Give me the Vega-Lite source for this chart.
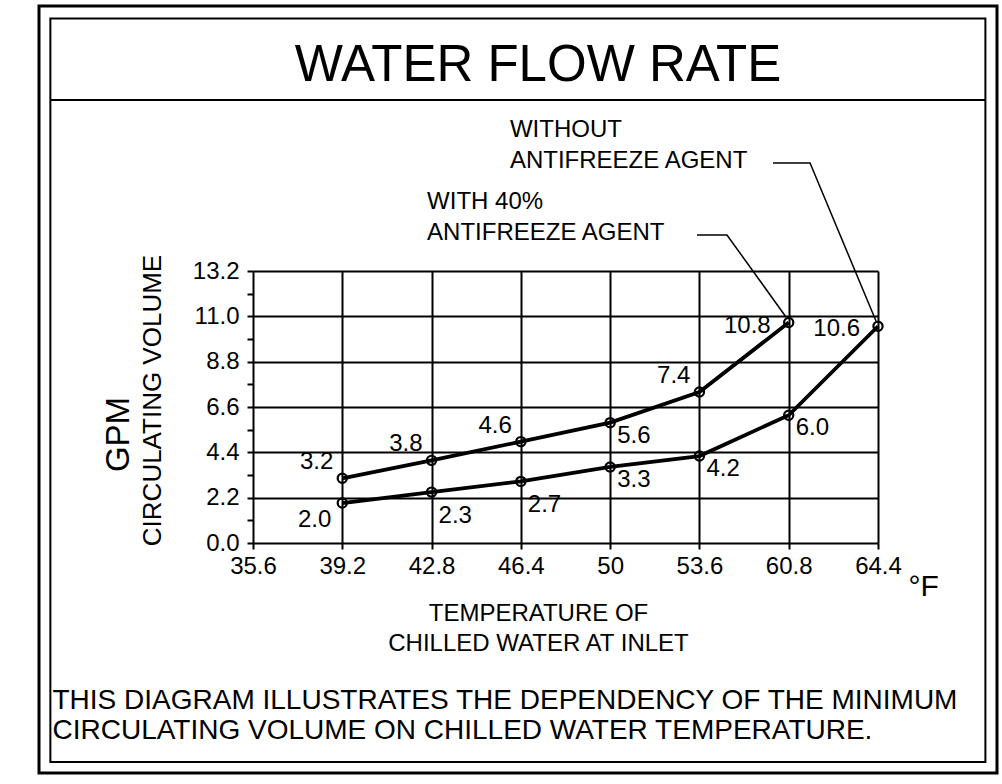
{
  "$schema": "https://vega.github.io/schema/vega-lite/v6.json",
  "width": 958,
  "height": 767,
  "autosize": {"type": "none"},
  "padding": {"left": 39, "top": 6, "right": 5, "bottom": 11},
  "background": "white",
  "config": {
    "view": {"stroke": "black", "strokeWidth": 3},
    "font": "Liberation Sans",
    "axis": {
      "labelFont": "Liberation Sans", "titleFont": "Liberation Sans",
      "labelColor": "black", "titleColor": "black", "titleFontWeight": "normal",
      "tickColor": "black", "domainColor": "black", "gridColor": "black"
    },
    "title": {"font": "Liberation Sans", "fontWeight": "normal", "color": "black"},
    "text": {"font": "Liberation Sans", "color": "black"}
  },
  "title": {
    "text": "WATER FLOW RATE", "fontSize": 51, "anchor": "middle", "frame": "group",
    "baseline": "alphabetic", "offset": -126, "dx": 20
  },
  "datasets": {
    "flow": [
      {"series": "With 40% antifreeze agent", "temp": 39.2, "gpm": 3.14, "stated": 3.2},
      {"series": "With 40% antifreeze agent", "temp": 42.8, "gpm": 4.01, "stated": 3.8},
      {"series": "With 40% antifreeze agent", "temp": 46.4, "gpm": 4.92, "stated": 4.6},
      {"series": "With 40% antifreeze agent", "temp": 50, "gpm": 5.84, "stated": 5.6},
      {"series": "With 40% antifreeze agent", "temp": 53.6, "gpm": 7.33, "stated": 7.4},
      {"series": "With 40% antifreeze agent", "temp": 60.8, "gpm": 10.70, "stated": 10.8},
      {"series": "Without antifreeze agent", "temp": 39.2, "gpm": 1.94, "stated": 2.0},
      {"series": "Without antifreeze agent", "temp": 42.8, "gpm": 2.47, "stated": 2.3},
      {"series": "Without antifreeze agent", "temp": 46.4, "gpm": 2.99, "stated": 2.7},
      {"series": "Without antifreeze agent", "temp": 50, "gpm": 3.69, "stated": 3.3},
      {"series": "Without antifreeze agent", "temp": 53.6, "gpm": 4.22, "stated": 4.2},
      {"series": "Without antifreeze agent", "temp": 60.8, "gpm": 6.20, "stated": 6.0},
      {"series": "Without antifreeze agent", "temp": 64.4, "gpm": 10.52, "stated": 10.6}
    ],
    "notes": [
      {"series": "With 40% antifreeze agent", "note": "WITH 40%\nANTIFREEZE AGENT", "temp": 42.62, "gpm": 16.21},
      {"series": "Without antifreeze agent", "note": "WITHOUT\nANTIFREEZE AGENT", "temp": 45.96, "gpm": 19.70}
    ],
    "leaders": [
      {"series": "With 40% antifreeze agent", "step": 1, "temp": 53.50, "gpm": 14.95},
      {"series": "With 40% antifreeze agent", "step": 2, "temp": 55.82, "gpm": 14.95},
      {"series": "With 40% antifreeze agent", "step": 3, "temp": 60.58, "gpm": 10.97},
      {"series": "Without antifreeze agent", "step": 1, "temp": 59.53, "gpm": 18.44},
      {"series": "Without antifreeze agent", "step": 2, "temp": 61.66, "gpm": 18.44},
      {"series": "Without antifreeze agent", "step": 3, "temp": 64.32, "gpm": 10.77}
    ],
    "frame": [
      {"part": "border", "t1": 27.43, "t2": 68.73, "g1": -10.63, "g2": 25.45},
      {"part": "title rule", "t1": 27.43, "t2": 68.73, "g1": 21.50, "g2": 21.50}
    ]
  },
  "resolve": {"axis": {"x": "independent", "y": "independent"}},
  "layer": [
    {
      "data": {"name": "frame"},
      "transform": [{"filter": "datum.part == 'border'"}],
      "mark": {"type": "rect", "filled": false, "stroke": "black", "strokeWidth": 2},
      "encoding": {
        "x": {"field": "t1", "type": "quantitative", "axis": null,
              "scale": {"domain": [35.6, 53.6, 60.8, 64.4], "range": [214, 660.43, 749.71, 839], "nice": false, "zero": false}},
        "x2": {"field": "t2"},
        "y": {"field": "g1", "type": "quantitative", "axis": null,
              "scale": {"domain": [0, 13.2], "range": [537, 265], "nice": false, "zero": false}},
        "y2": {"field": "g2"}
      }
    },
    {
      "data": {"name": "frame"},
      "transform": [{"filter": "datum.part == 'title rule'"}],
      "mark": {"type": "rule", "stroke": "black", "strokeWidth": 2},
      "encoding": {
        "x": {"field": "t1", "type": "quantitative", "axis": null,
              "scale": {"domain": [35.6, 53.6, 60.8, 64.4], "range": [214, 660.43, 749.71, 839], "nice": false, "zero": false}},
        "x2": {"field": "t2"},
        "y": {"field": "g1", "type": "quantitative", "axis": null,
              "scale": {"domain": [0, 13.2], "range": [537, 265], "nice": false, "zero": false}}
      }
    },
    {
      "data": {"name": "leaders"},
      "mark": {"type": "line", "color": "black", "strokeWidth": 1.5},
      "encoding": {
        "x": {"field": "temp", "type": "quantitative", "axis": null,
              "scale": {"domain": [35.6, 53.6, 60.8, 64.4], "range": [214, 660.43, 749.71, 839], "nice": false, "zero": false}},
        "y": {"field": "gpm", "type": "quantitative", "axis": null,
              "scale": {"domain": [0, 13.2], "range": [537, 265], "nice": false, "zero": false}},
        "detail": {"field": "series"},
        "order": {"field": "step", "type": "quantitative"}
      }
    },
    {
      "data": {"name": "flow"},
      "mark": {"type": "line", "color": "black", "strokeWidth": 3.8},
      "encoding": {
        "x": {"field": "temp", "type": "quantitative",
              "scale": {"domain": [35.6, 53.6, 60.8, 64.4], "range": [214, 660.43, 749.71, 839], "nice": false, "zero": false},
              "axis": {
                "orient": "bottom", "offset": -230,
                "values": [35.6, 39.2, 42.8, 46.4, 50, 53.6, 60.8, 64.4], "format": ".3~g",
                "grid": false, "domain": false, "ticks": true, "tickSize": 6, "tickWidth": 2,
                "labelFontSize": 24, "labelPadding": 5, "labelFlush": false, "labelOverlap": false,
                "title": ["TEMPERATURE OF", "CHILLED WATER AT INLET"], "titleFontSize": 24,
                "titleX": 499, "titleY": 77, "titleAlign": "center", "titleBaseline": "alphabetic",
                "titleLineHeight": 30, "titleAngle": 0
              }},
        "y": {"field": "gpm", "type": "quantitative",
              "scale": {"domain": [0, 13.2], "range": [537, 265], "nice": false, "zero": false},
              "axis": {
                "orient": "left", "offset": -214,
                "values": [0, 1.1, 2.2, 3.3, 4.4, 5.5, 6.6, 7.7, 8.8, 9.9, 11, 12.1, 13.2],
                "labelExpr": "round(datum.value * 10) % 22 == 0 ? format(datum.value, '.1f') : ''",
                "grid": true, "gridWidth": 2,
                "gridOpacity": {"condition": {"test": "round(datum.value * 10) % 22 != 0", "value": 0}, "value": 1},
                "domain": false, "ticks": true, "tickSize": 6, "tickWidth": 2,
                "labelFontSize": 24, "labelPadding": 8, "labelOverlap": false,
                "title": "CIRCULATING VOLUME", "titleFontSize": 26,
                "titleX": -101, "titleY": 394, "titleAngle": -90, "titleAlign": "center", "titleBaseline": "middle"
              }},
        "detail": {"field": "series"}
      }
    },
    {
      "data": {"name": "flow"},
      "mark": {"type": "point", "shape": "circle", "filled": false, "stroke": "black", "strokeWidth": 2.2, "size": 85, "opacity": 1},
      "encoding": {
        "x": {"field": "temp", "type": "quantitative",
              "scale": {"domain": [35.6, 53.6, 60.8, 64.4], "range": [214, 660.43, 749.71, 839], "nice": false, "zero": false},
              "axis": {
                "orient": "top", "values": [35.6, 39.2, 42.8, 46.4, 50, 53.6, 60.8, 64.4],
                "grid": true, "gridWidth": 2, "domain": false, "ticks": false, "labels": false,
                "title": "°F", "titleFontSize": 30, "titleX": 869, "titleY": 589,
                "titleAlign": "left", "titleBaseline": "alphabetic", "titleAngle": 0
              }},
        "y": {"field": "gpm", "type": "quantitative",
              "scale": {"domain": [0, 13.2], "range": [537, 265], "nice": false, "zero": false},
              "axis": {
                "orient": "left", "grid": false, "domain": false, "ticks": false, "labels": false,
                "title": "GPM", "titleFontSize": 33, "titleX": 79, "titleY": 428,
                "titleAngle": -90, "titleAlign": "center", "titleBaseline": "middle"
              }}
      }
    },
    {
      "data": {"name": "flow"},
      "transform": [{"filter": "datum.series == 'With 40% antifreeze agent' && datum.temp != 50 && datum.temp != 60.8"}],
      "mark": {"type": "text", "align": "right", "baseline": "alphabetic", "dx": -9, "dy": -9, "fontSize": 24},
      "encoding": {
        "x": {"field": "temp", "type": "quantitative",
              "scale": {"domain": [35.6, 53.6, 60.8, 64.4], "range": [214, 660.43, 749.71, 839], "nice": false, "zero": false},
              "axis": {
                "orient": "bottom", "grid": false, "domain": false, "ticks": false, "labels": false,
                "title": ["THIS DIAGRAM ILLUSTRATES THE DEPENDENCY OF THE MINIMUM", "CIRCULATING VOLUME ON CHILLED WATER TEMPERATURE."],
                "titleFontSize": 28, "titleX": 13, "titleY": -65, "titleAlign": "left",
                "titleBaseline": "alphabetic", "titleLineHeight": 30, "titleAngle": 0
              }},
        "y": {"field": "gpm", "type": "quantitative", "axis": null,
              "scale": {"domain": [0, 13.2], "range": [537, 265], "nice": false, "zero": false}},
        "text": {"field": "stated", "type": "quantitative", "format": ".1f"}
      }
    },
    {
      "data": {"name": "flow"},
      "transform": [{"filter": "(datum.series == 'With 40% antifreeze agent' && datum.temp == 60.8) || datum.temp == 64.4"}],
      "mark": {"type": "text", "align": "right", "baseline": "middle", "dx": -18, "dy": 3, "fontSize": 24},
      "encoding": {
        "x": {"field": "temp", "type": "quantitative", "axis": null,
              "scale": {"domain": [35.6, 53.6, 60.8, 64.4], "range": [214, 660.43, 749.71, 839], "nice": false, "zero": false}},
        "y": {"field": "gpm", "type": "quantitative", "axis": null,
              "scale": {"domain": [0, 13.2], "range": [537, 265], "nice": false, "zero": false}},
        "text": {"field": "stated", "type": "quantitative", "format": ".1f"}
      }
    },
    {
      "data": {"name": "flow"},
      "transform": [{"filter": "(datum.series == 'With 40% antifreeze agent' && datum.temp == 50) || (datum.series == 'Without antifreeze agent' && datum.temp > 48 && datum.temp < 64)"}],
      "mark": {"type": "text", "align": "left", "baseline": "alphabetic", "dx": 7, "dy": 20, "fontSize": 24},
      "encoding": {
        "x": {"field": "temp", "type": "quantitative", "axis": null,
              "scale": {"domain": [35.6, 53.6, 60.8, 64.4], "range": [214, 660.43, 749.71, 839], "nice": false, "zero": false}},
        "y": {"field": "gpm", "type": "quantitative", "axis": null,
              "scale": {"domain": [0, 13.2], "range": [537, 265], "nice": false, "zero": false}},
        "text": {"field": "stated", "type": "quantitative", "format": ".1f"}
      }
    },
    {
      "data": {"name": "flow"},
      "transform": [{"filter": "datum.series == 'Without antifreeze agent' && datum.temp > 40 && datum.temp < 48"}],
      "mark": {"type": "text", "align": "left", "baseline": "alphabetic", "dx": 7, "dy": 31, "fontSize": 24},
      "encoding": {
        "x": {"field": "temp", "type": "quantitative", "axis": null,
              "scale": {"domain": [35.6, 53.6, 60.8, 64.4], "range": [214, 660.43, 749.71, 839], "nice": false, "zero": false}},
        "y": {"field": "gpm", "type": "quantitative", "axis": null,
              "scale": {"domain": [0, 13.2], "range": [537, 265], "nice": false, "zero": false}},
        "text": {"field": "stated", "type": "quantitative", "format": ".1f"}
      }
    },
    {
      "data": {"name": "flow"},
      "transform": [{"filter": "datum.series == 'Without antifreeze agent' && datum.temp == 39.2"}],
      "mark": {"type": "text", "align": "right", "baseline": "alphabetic", "dx": -11, "dy": 24, "fontSize": 24},
      "encoding": {
        "x": {"field": "temp", "type": "quantitative", "axis": null,
              "scale": {"domain": [35.6, 53.6, 60.8, 64.4], "range": [214, 660.43, 749.71, 839], "nice": false, "zero": false}},
        "y": {"field": "gpm", "type": "quantitative", "axis": null,
              "scale": {"domain": [0, 13.2], "range": [537, 265], "nice": false, "zero": false}},
        "text": {"field": "stated", "type": "quantitative", "format": ".1f"}
      }
    },
    {
      "data": {"name": "notes"},
      "mark": {"type": "text", "align": "left", "baseline": "alphabetic", "lineBreak": "\n", "lineHeight": 31, "fontSize": 24},
      "encoding": {
        "x": {"field": "temp", "type": "quantitative", "axis": null,
              "scale": {"domain": [35.6, 53.6, 60.8, 64.4], "range": [214, 660.43, 749.71, 839], "nice": false, "zero": false}},
        "y": {"field": "gpm", "type": "quantitative", "axis": null,
              "scale": {"domain": [0, 13.2], "range": [537, 265], "nice": false, "zero": false}},
        "text": {"field": "note", "type": "nominal"}
      }
    }
  ]
}
